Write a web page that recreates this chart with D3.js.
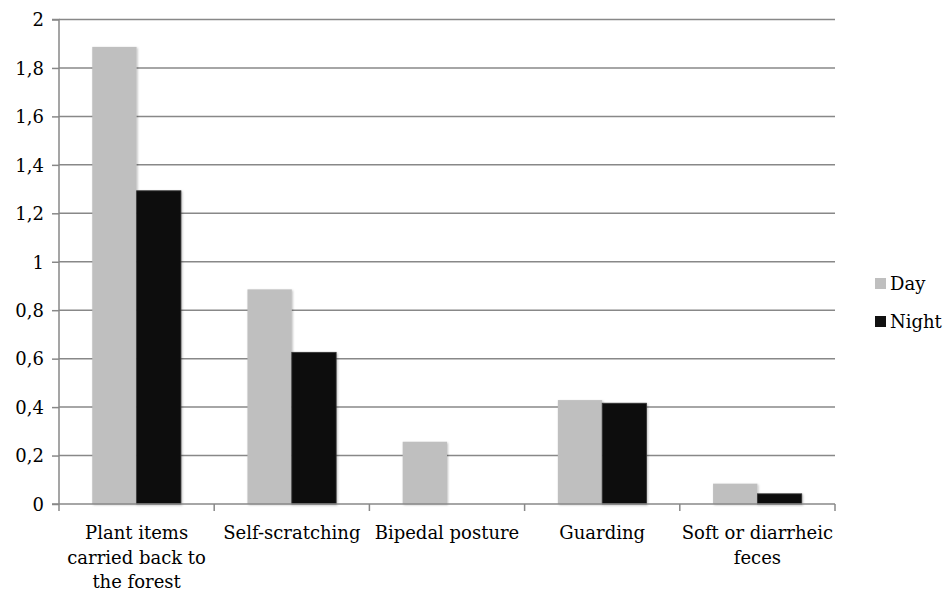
<!DOCTYPE html>
<html><head><meta charset="utf-8">
<script src="https://cdn.jsdelivr.net/npm/d3@7"></script>
<style>body{margin:0;background:#fff}svg{display:block}</style>
</head><body>
<svg id="c" width="945" height="592"></svg>
<script>
const categories = [["Plant items","carried back to","the forest"],["Self-scratching"],["Bipedal posture"],["Guarding"],["Soft or diarrheic","feces"]];
const seriesNames = ["Day","Night"];
const dayValues = [1.887, 0.886, 0.257, 0.429, 0.084];
const nightValues = [1.293, 0.626, 0, 0.416, 0.042];
const yTicks = [0,0.2,0.4,0.6,0.8,1,1.2,1.4,1.6,1.8,2];
const yTickLabels = ["0","0,2","0,4","0,6","0,8","1","1,2","1,4","1,6","1,8","2"];
const colors = ["#bfbfbf","#111111"];

(function(){
const svg = d3.select("#c");
const font = "'DejaVu Serif', serif";
const fs = 18;
const mLeft = 59, mRight = 835, mTop = 19.5, mBottom = 504;
const keys = categories.map((c,i)=>i);
const x = d3.scaleBand().domain(keys).range([mLeft,mRight]).paddingInner(0).paddingOuter(0);
const y = d3.scaleLinear().domain([0,2]).range([mBottom,mTop]);
const bw = x.bandwidth();
const barW = bw/ (2 + 1.5);
const x1 = d3.scaleBand().domain([0,1]).range([barW*0.75, barW*0.75 + 2*barW]);

const defs = svg.append("defs");
const f = defs.append("filter").attr("id","sh").attr("x","-20%").attr("y","-20%").attr("width","140%").attr("height","140%");
f.append("feDropShadow").attr("dx",1).attr("dy",1).attr("stdDeviation",1.2).attr("flood-color","#000").attr("flood-opacity",0.25);

svg.append("g").selectAll("line").data(yTicks.slice(1)).join("line")
  .attr("x1",mLeft).attr("x2",mRight).attr("y1",d=>y(d)).attr("y2",d=>y(d))
  .attr("stroke","#888").attr("stroke-width",1.5);

const data = [dayValues, nightValues];
data.forEach((vals,s)=>{
  svg.append("g").selectAll("rect").data(vals).join("rect")
    .attr("x",(d,i)=>x(i)+x1(s)).attr("width",x1.bandwidth())
    .attr("y",d=>y(d)).attr("height",d=>y(0)-y(d))
    .attr("fill",colors[s])
    .attr("stroke", s===1 ? "#333" : "none").attr("stroke-width",0.8)
    .attr("filter", d=>d>0?"url(#sh)":null)
    .attr("display", d=>d>0?null:"none");
});

const yAxis = d3.axisLeft(y).tickValues(yTicks).tickFormat((d,i)=>yTickLabels[i]).tickSize(7).tickPadding(8);
const gy = svg.append("g").attr("transform",`translate(${mLeft},0)`).call(yAxis);
gy.select(".domain").attr("stroke","#888").attr("stroke-width",1.5).attr("d",`M-7,${mTop}H0V${mBottom}`);
gy.selectAll(".tick line").attr("stroke","#888").attr("stroke-width",1.5);
gy.selectAll(".tick text").attr("font-family",font).attr("font-size",fs).attr("fill","#000").attr("dy","0.35em").attr("x",-15);

const gx = svg.append("g").attr("transform",`translate(0,${mBottom})`);
gx.append("line").attr("x1",mLeft-7).attr("x2",mRight).attr("stroke","#888").attr("stroke-width",1.5);
gx.selectAll("line.t").data(d3.range(keys.length+1)).join("line").attr("class","t")
  .attr("x1",i=>mLeft+i*bw).attr("x2",i=>mLeft+i*bw).attr("y1",0).attr("y2",7)
  .attr("stroke","#888").attr("stroke-width",1.5);
const lbl = gx.selectAll("text").data(categories).join("text")
  .attr("font-family",font).attr("font-size",fs).attr("fill","#000").attr("text-anchor","middle");
lbl.each(function(lines,i){
  d3.select(this).selectAll("tspan").data(lines).join("tspan")
    .attr("x",x(i)+bw/2).attr("y",(d,j)=>35+j*24.5).text(d=>d);
});

const lg = svg.append("g");
seriesNames.forEach((n,i)=>{
  const yy = 284 + i*38;
  lg.append("rect").attr("x",875).attr("y",yy-6).attr("width",11).attr("height",11).attr("fill",colors[i]);
  lg.append("text").attr("x",890).attr("y",yy).attr("dy","0.35em").attr("font-family",font).attr("font-size",fs).text(n);
});
})();
</script>
</body></html>
